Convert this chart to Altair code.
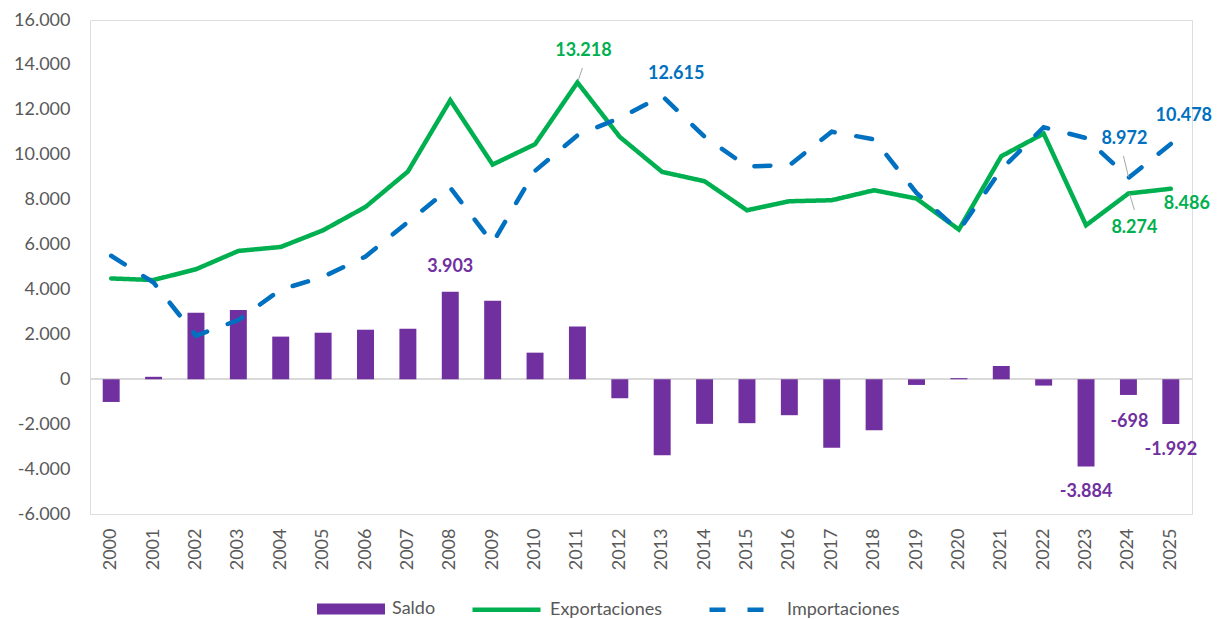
import altair as alt
import pandas as pd

years = [str(y) for y in range(2000, 2026)]
saldo = [-1010, 110, 2960, 3080, 1900, 2074, 2207, 2251, 3903, 3495, 1185, 2355, -845,
         -3381, -1985, -1955, -1600, -3051, -2266, -252, 50, 590, -281, -3884, -698, -1992]
exportaciones = [4490, 4420, 4900, 5715, 5893, 6636, 7675, 9250, 12430, 9562, 10467, 13218, 10792,
                 9234, 8819, 7527, 7928, 7973, 8418, 8048, 6667, 9932, 10943, 6859, 8274, 8486]
importaciones = [5500, 4310, 1940, 2635, 3993, 4562, 5468, 6999, 8527, 6067, 9282, 10863, 11637,
                 12615, 10804, 9482, 9528, 11024, 10684, 8300, 6617, 9342, 11224, 10743, 8972, 10478]
series = ["Saldo", "Exportaciones", "Importaciones"]
colors = ["#7030A0", "#00B050", "#0070C0"]


def fmt(v):
    return f"{v:,}".replace(",", ".")


rows = []
for name, vals in zip(series, [saldo, exportaciones, importaciones]):
    for y, v in zip(years, vals):
        rows.append({"year": y, "value": v, "serie": name, "label": fmt(v)})
df = pd.DataFrame(rows)

FONT = "Lato"
W, H = 1102, 494

xenc = alt.X("year:N", sort=years,
             scale=alt.Scale(paddingInner=0.6, paddingOuter=0.3),
             axis=alt.Axis(title=None, labelAngle=270, labelFont=FONT, labelFontSize=18,
                           labelColor="#595959", ticks=False, tickSize=0, domain=False,
                           labelPadding=14, grid=False))
yscale = alt.Scale(domain=[-6000, 16000], nice=False)
yenc = alt.Y("value:Q", scale=yscale,
             axis=alt.Axis(title=None, values=list(range(-6000, 16001, 2000)), grid=False,
                           domain=False, ticks=False, labelPadding=20, labelFont=FONT,
                           labelFontSize=18, labelColor="#595959",
                           labelExpr="datum.value < 0 ? '-' + replace(format(-datum.value, ','), ',', '.') : replace(format(datum.value, ','), ',', '.')"))

fill_scale = alt.Scale(domain=series[:1], range=colors[:1])
stroke_scale = alt.Scale(domain=series[1:], range=colors[1:])
dash_scale = alt.Scale(domain=series[1:], range=[[1, 0], [16, 22]])

leg_common = dict(title=None, orient="none", direction="horizontal", labelFont=FONT,
                  labelFontSize=18, labelColor="#595959")
bar_leg = alt.Legend(legendX=227, legendY=555, symbolType="M-1,-0.16H1V0.16H-1Z",
                     symbolSize=4624, labelOffset=7, symbolStrokeWidth=0, **leg_common)
line_leg = alt.Legend(legendX=380, legendY=553, symbolType="stroke", symbolSize=4624,
                      symbolStrokeWidth=4.5, labelOffset=7, columnPadding=37, **leg_common)

base = alt.Chart(df)

zero = base.mark_rule(color="#D9D9D9", strokeWidth=1.5).encode(y=alt.datum(0, scale=yscale))

bars = base.transform_filter(alt.datum.serie == "Saldo").mark_bar().encode(
    x=xenc, y=yenc, fill=alt.Fill("serie:N", scale=fill_scale, legend=bar_leg))


def line_layer(name):
    return base.transform_filter(alt.datum.serie == name).mark_line(
        strokeCap="round", strokeWidth=4.5).encode(
        x=xenc, y=yenc,
        stroke=alt.Stroke("serie:N", scale=stroke_scale, legend=line_leg),
        strokeDash=alt.StrokeDash("serie:N", scale=dash_scale, legend=line_leg),
    )


exp_line = line_layer("Exportaciones")
imp_line = line_layer("Importaciones")

label_specs = [
    ("2008", "Saldo", 0, -25),
    ("2011", "Exportaciones", 6, -31.5),
    ("2013", "Importaciones", 14, -22),
    ("2025", "Importaciones", 13, -28),
    ("2024", "Importaciones", -4, -39),
    ("2024", "Exportaciones", 6, 35),
    ("2025", "Exportaciones", 16, 15),
    ("2023", "Saldo", 0, 26),
    ("2024", "Saldo", 1, 27),
    ("2025", "Saldo", 0, 25.5),
]
label_layers = []
for yr, name, dx, dy in label_specs:
    label_layers.append(
        base.transform_filter((alt.datum.year == yr) & (alt.datum.serie == name))
        .mark_text(dx=dx, dy=dy, font=FONT, fontSize=18, fontWeight="bold",
                   color=colors[series.index(name)], baseline="middle", align="center")
        .encode(x=alt.X("year:N", sort=years), y=alt.Y("value:Q"), text="label:N")
    )

leader_specs = [
    ("2011", "Exportaciones", 1, -2.5, 5, -14.5),
    ("2024", "Importaciones", -5, -22, 0, -1),
    ("2024", "Exportaciones", 1, 0, 6, 16.5),
]
leader_layers = []
for yr, name, x1, y1, x2, y2 in leader_specs:
    leader_layers.append(
        base.transform_filter((alt.datum.year == yr) & (alt.datum.serie == name))
        .mark_rule(color="#A6A6A6", strokeWidth=1, xOffset=x1, yOffset=y1, x2Offset=x2, y2Offset=y2)
        .encode(x=alt.X("year:N", sort=years, bandPosition=0.5),
                x2=alt.X2("year", bandPosition=0.5),
                y=alt.Y("value:Q"), y2=alt.Y2("value"))
    )

chart = alt.layer(zero, bars, exp_line, imp_line, *leader_layers, *label_layers).properties(
    width=W, height=H,
    autosize=alt.AutoSizeParams(type="none"),
    padding={"left": 82, "top": 12, "right": 20, "bottom": 114},
).configure_view(stroke=None).configure(font=FONT)

chart.save("out.html", embed_options={"renderer": "svg", "actions": False})
